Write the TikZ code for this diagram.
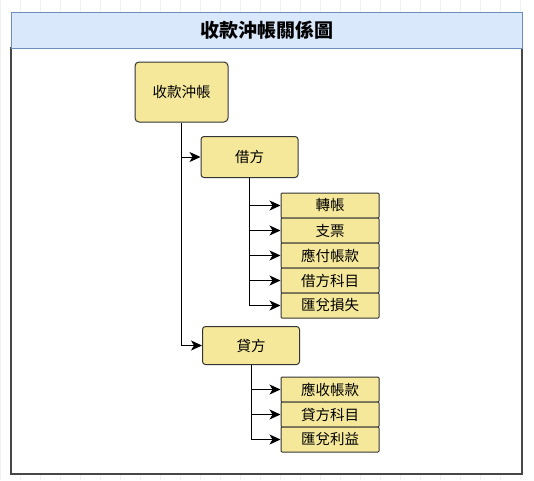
\documentclass[tikz,border=0pt]{standalone}
\usepackage{fontspec}
\usepackage{tikz}
\usetikzlibrary{arrows.meta,positioning}
\newfontfamily\cjk{Noto Sans CJK TC}
\definecolor{kopfblau}{RGB}{218,232,252}
\definecolor{kopfrand}{RGB}{108,142,191}
\definecolor{kastengelb}{RGB}{245,232,155}
\definecolor{randgrau}{RGB}{51,51,51}
\begin{document}
\begin{tikzpicture}[
        x=1pt, y=-1pt,
        >={Stealth[length=11pt,width=10pt,inset=3pt]},
        every node/.style={font=\cjk\fontsize{14.5}{16}\selectfont},
        root/.style={draw=randgrau, rounded corners=4pt, fill=kastengelb, minimum width=93pt, minimum height=60pt, inner sep=0pt, line width=1pt},
        side/.style={draw=randgrau, rounded corners=3pt, fill=kastengelb, minimum width=97pt, minimum height=41pt, inner sep=0pt, line width=1pt},
        leaf/.style={draw=randgrau, rounded corners=1pt, fill=kastengelb, minimum width=98pt, minimum height=25pt, inner sep=0pt, line width=1pt},
        link/.style={->, draw=black, line width=1pt}
    ]
        \useasboundingbox (0,0) rectangle (534,480);
        \draw[step=20, gray!12, line width=0.5pt] (0,0) grid (534,480);
        % frame
        \draw[fill=white, draw=randgrau!90, line width=1.6pt] (11,48) rectangle (522,474);
        \node[draw=kopfrand, fill=kopfblau, line width=1pt, minimum width=511pt, minimum height=36pt, inner sep=0pt, font=\cjk\bfseries\fontsize{19}{22}\selectfont] (title) at (266.5,30) {收款沖帳關係圖};
        % nodes
        \node[root] (receipt) at (181.5,92) {收款沖帳};
        \node[side] (debit) at (249.5,157) {借方};
        \node[side, minimum height=38pt] (credit) at (251,345.5) {貸方};
        \node[leaf] (transfer) at (330,205.5) {轉帳};
        \node[leaf] (cheque) at (330,230.5) {支票};
        \node[leaf] (payable) at (330,255.5) {應付帳款};
        \node[leaf] (debitacc) at (330,280.5) {借方科目};
        \node[leaf] (fxloss) at (330,305.5) {匯兌損失};
        \node[leaf] (receivable) at (330,389.5) {應收帳款};
        \node[leaf] (creditacc) at (330,414.5) {貸方科目};
        \node[leaf] (fxgain) at (330,439.5) {匯兌利益};
        % connectors
        \draw[link] (receipt.south) |- (debit.west);
        \draw[link] (receipt.south) |- (credit.west);
        \draw[link] (debit.south) |- (transfer.west);
        \draw[link] (debit.south) |- (cheque.west);
        \draw[link] (debit.south) |- (payable.west);
        \draw[link] (debit.south) |- (debitacc.west);
        \draw[link] (debit.south) |- (fxloss.west);
        \draw[link] (credit.south) |- (receivable.west);
        \draw[link] (credit.south) |- (creditacc.west);
        \draw[link] (credit.south) |- (fxgain.west);
    \end{tikzpicture}
\end{document}
